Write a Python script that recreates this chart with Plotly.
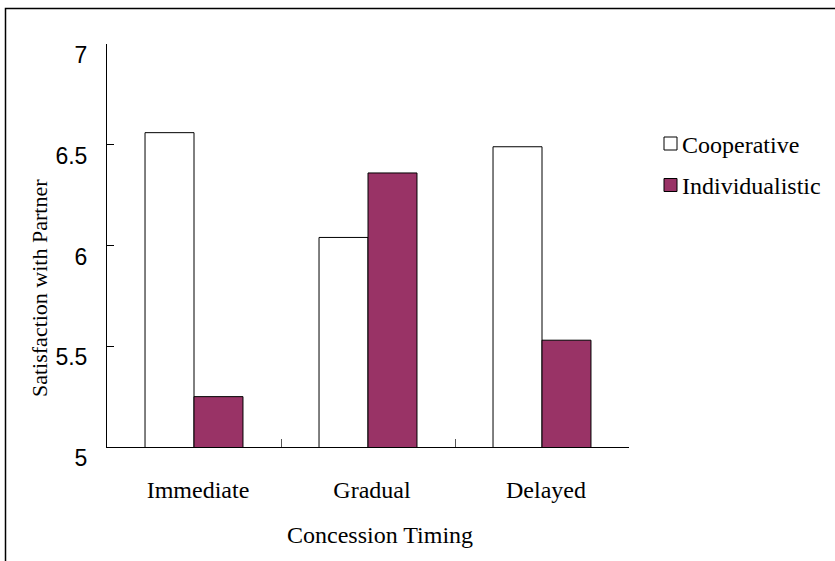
import plotly.graph_objects as go

categories = ["Immediate", "Gradual", "Delayed"]
series_names = ["Cooperative", "Individualistic"]
cooperative = [6.56, 6.04, 6.49]
individualistic = [5.25, 6.36, 5.53]
y_ticks = [5, 5.5, 6, 6.5, 7]
y_tick_labels = ["5", "5.5", "6", "6.5", "7"]
x_title = "Concession Timing"
y_title = "Satisfaction with Partner"

colors = ["#FFFFFF", "#993366"]
serif = "Liberation Serif, Times New Roman, serif"
sans = "Liberation Sans, Arial, sans-serif"

fig = go.Figure()
for name, vals, col in zip(series_names, [cooperative, individualistic], colors):
    fig.add_trace(go.Bar(
        x=categories, y=vals, name=name,
        marker=dict(color=col, line=dict(color="#000000", width=1)),
        showlegend=False,
    ))

L, R, T, B = 107, 206, 44, 114
W, H = 835, 561
pw, ph = W - L - R, H - T - B

def px(x):
    return (x - L) / pw

def py(y):
    return (T + ph - y) / ph

fig.update_layout(
    width=W, height=H,
    margin=dict(l=L, r=R, t=T, b=B),
    paper_bgcolor="white", plot_bgcolor="white",
    barmode="group", bargap=0.437, bargroupgap=0,
    xaxis=dict(
        showline=True, linecolor="#000000", linewidth=1,
        ticks="inside", tickson="boundaries", ticklen=8, tickcolor="#555555",
        tickfont=dict(family=serif, size=24, color="#000000"),
        ticklabelstandoff=21, ticklabelshift=4,
        showgrid=False, zeroline=False,
    ),
    yaxis=dict(
        range=[5, 7], tickvals=y_ticks, ticktext=y_tick_labels,
        showline=True, linecolor="#000000", linewidth=1,
        ticks="inside", ticklen=7, tickcolor="#000000",
        tickfont=dict(family=sans, size=23, color="#000000"),
        ticklabelshift=11, ticklabelstandoff=14,
        showgrid=False, zeroline=False,
    ),
)

# axis titles
fig.add_annotation(text=x_title, xref="paper", yref="paper", x=px(380), y=py(535),
                   showarrow=False, font=dict(family=serif, size=24, color="#000000"),
                   xanchor="center", yanchor="middle")
fig.add_annotation(text=y_title, xref="paper", yref="paper", x=px(39), y=py(288),
                   showarrow=False, textangle=-90, font=dict(family=serif, size=22, color="#000000"),
                   xanchor="center", yanchor="middle")

# legend (manual)
leg_rows = [143.5, 185]
for name, col, cy in zip(series_names, colors, leg_rows):
    fig.add_shape(type="rect", xref="paper", yref="paper",
                  x0=px(664), x1=px(677), y0=py(cy + 6.5), y1=py(cy - 6.5),
                  fillcolor=col, line=dict(color="#000000", width=1))
    fig.add_annotation(text=name, xref="paper", yref="paper", x=px(680), y=py(cy + 1),
                       showarrow=False, font=dict(family=serif, size=24, color="#000000"),
                       xanchor="left", yanchor="middle")

# outer frame
fig.add_shape(type="rect", xref="paper", yref="paper",
              x0=px(5.5), x1=px(845), y0=py(575), y1=py(8.5),
              line=dict(color="#000000", width=1.5), fillcolor="rgba(0,0,0,0)", layer="below")

fig.write_html("out.html", config={"displayModeBar": False},
               post_script="document.body.style.margin='0';")
